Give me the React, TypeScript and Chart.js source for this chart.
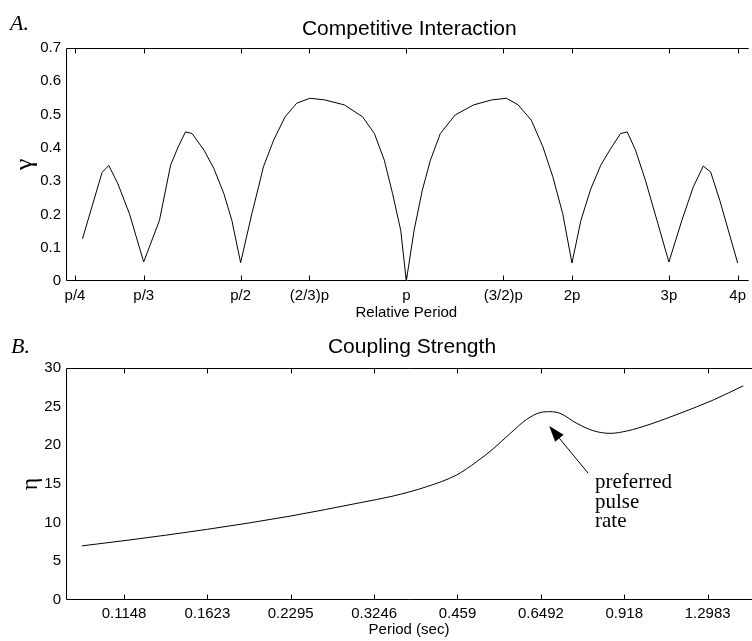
import React, { useEffect, useRef } from 'react';
import { Chart, registerables } from 'chart.js';

Chart.register(...registerables);

const SANS = '"Liberation Sans", Arial, Helvetica, sans-serif';
const SERIF = '"Liberation Serif", "Times New Roman", serif';

// ---- Panel A: Competitive Interaction ----
const REL_PERIOD = [
  0.258, 0.280, 0.288, 0.299, 0.314, 0.3333, 0.356, 0.373, 0.385, 0.397, 0.408,
  0.429, 0.447, 0.466, 0.482, 0.5, 0.524, 0.539, 0.550, 0.574, 0.602, 0.632,
  0.668, 0.711, 0.772, 0.833, 0.875, 0.912, 0.944, 0.977, 1.0, 1.033, 1.069,
  1.106, 1.153, 1.227, 1.325, 1.429, 1.521, 1.597, 1.687, 1.771, 1.846, 1.924,
  2.0, 2.076, 2.164, 2.256, 2.352, 2.451, 2.520, 2.609, 2.719, 2.854, 3.0,
  3.167, 3.323, 3.464, 3.572, 3.712, 4.0,
];
const GAMMA = [
  0.127, 0.326, 0.347, 0.293, 0.202, 0.057, 0.182, 0.348, 0.403, 0.448, 0.443,
  0.393, 0.338, 0.263, 0.182, 0.055, 0.202, 0.283, 0.343, 0.423, 0.493, 0.534,
  0.549, 0.544, 0.529, 0.493, 0.443, 0.363, 0.263, 0.152, 0.0, 0.152, 0.272,
  0.363, 0.443, 0.499, 0.529, 0.544, 0.549, 0.529, 0.483, 0.403, 0.313, 0.202,
  0.054, 0.182, 0.277, 0.348, 0.398, 0.443, 0.448, 0.393, 0.303, 0.182, 0.057,
  0.182, 0.283, 0.345, 0.328, 0.242, 0.054,
];
const REL_TICKS = [0.25, 1 / 3, 0.5, 2 / 3, 1, 1.5, 2, 3, 4];
const REL_TICK_LABELS = ['p/4', 'p/3', 'p/2', '(2/3)p', 'p', '(3/2)p', '2p', '3p', '4p'];
const GAMMA_TICKS = [0, 0.1, 0.2, 0.3, 0.4, 0.5, 0.6, 0.7];
const REL_MIN = 0.2408;
const REL_MAX = 4.153;

// ---- Panel B: Coupling Strength ----
const PERIOD_SEC = [
  0.0964, 0.1148, 0.1623, 0.2295, 0.3061, 0.3516, 0.4038, 0.4575, 0.4972,
  0.5327, 0.5709, 0.612, 0.6468, 0.6742, 0.7028, 0.7533, 0.8072, 0.8651,
  0.9273, 1.0215, 1.1571, 1.3288, 1.5055,
];
const ETA = [
  7.0, 7.67, 9.14, 10.86, 12.58, 13.45, 14.65, 16.17, 17.89, 19.57, 21.51,
  23.36, 24.23, 24.35, 24.14, 22.85, 21.89, 21.55, 21.85, 22.72, 24.14, 25.86,
  27.7,
];
const PERIOD_TICKS = [0.1148, 0.1623, 0.2295, 0.3246, 0.459, 0.6492, 0.918, 1.2983];
const PERIOD_TICK_LABELS = ['0.1148', '0.1623', '0.2295', '0.3246', '0.459', '0.6492', '0.918', '1.2983'];
const ETA_TICKS = [0, 5, 10, 15, 20, 25, 30];
const PERIOD_MIN = 0.0902;
const PERIOD_MAX = 1.561;

// annotation anchors (data coordinates of panel B)
const ARROW_TIP = { x: 0.672, y: 22.5 };
const ARROW_TAIL = { x: 0.79, y: 16.4 };
const NOTE_ANCHOR = { x: 0.813, y: 14.48 };
const NOTE_LINES = ['preferred', 'pulse', 'rate'];

const framePlugin = {
  id: 'frame',
  afterDraw(chart: any) {
    const { ctx, chartArea: a, scales } = chart;
    const L = Math.round(a.left) + 0.5;
    const T = Math.round(a.top) + 0.5;
    const B = Math.round(a.bottom) - 0.5;
    const R = a.right + 2;
    ctx.save();
    ctx.strokeStyle = '#000';
    ctx.lineWidth = 1;
    ctx.beginPath();
    ctx.moveTo(R, T);
    ctx.lineTo(L, T);
    ctx.lineTo(L, B);
    ctx.lineTo(R, B);
    const xs = scales.x;
    xs.ticks.forEach((t: any) => {
      const px = Math.round(xs.getPixelForValue(t.value)) + 0.5;
      ctx.moveTo(px, T);
      ctx.lineTo(px, T + 5);
      ctx.moveTo(px, B);
      ctx.lineTo(px, B - 5);
    });
    ctx.stroke();
    ctx.restore();
  },
};

const decorPlugin = {
  id: 'decor',
  afterDraw(chart: any, _args: any, opts: any) {
    const { ctx, chartArea: a, scales } = chart;
    ctx.save();
    ctx.fillStyle = '#000';
    ctx.textBaseline = 'alphabetic';
    ctx.textAlign = 'left';
    ctx.font = `italic 22px ${SERIF}`;
    ctx.fillText(opts.letter, opts.letterX, opts.letterY);
    ctx.textAlign = 'center';
    ctx.font = `21px ${SANS}`;
    ctx.fillText(opts.title, (a.left + a.right) / 2 + 3, opts.titleY);
    if (opts.note) {
      const xs = scales.x;
      const ys = scales.y;
      const tx = xs.getPixelForValue(ARROW_TIP.x);
      const ty = ys.getPixelForValue(ARROW_TIP.y);
      const sx = xs.getPixelForValue(ARROW_TAIL.x);
      const sy = ys.getPixelForValue(ARROW_TAIL.y);
      const ang = Math.atan2(ty - sy, tx - sx);
      const headLen = 16;
      const headHalf = 5.5;
      const bx = tx - headLen * Math.cos(ang);
      const by = ty - headLen * Math.sin(ang);
      ctx.strokeStyle = '#000';
      ctx.lineWidth = 1;
      ctx.beginPath();
      ctx.moveTo(sx, sy);
      ctx.lineTo(bx, by);
      ctx.stroke();
      ctx.beginPath();
      ctx.moveTo(tx, ty);
      ctx.lineTo(bx + headHalf * Math.sin(ang), by - headHalf * Math.cos(ang));
      ctx.lineTo(bx - headHalf * Math.sin(ang), by + headHalf * Math.cos(ang));
      ctx.closePath();
      ctx.fill();
      ctx.textAlign = 'left';
      ctx.font = `21px ${SERIF}`;
      const nx = xs.getPixelForValue(NOTE_ANCHOR.x);
      const ny = ys.getPixelForValue(NOTE_ANCHOR.y);
      NOTE_LINES.forEach((line, i) => ctx.fillText(line, nx, ny + i * 19.5));
    }
    ctx.restore();
  },
};

function makeConfig(p: any): any {
  return {
    type: 'line',
    data: {
      datasets: [
        {
          data: p.xs.map((x: number, i: number) => ({ x, y: p.ys[i] })),
          borderColor: '#000',
          borderWidth: 1,
          pointRadius: 0,
          fill: false,
          tension: p.smooth ? 0.4 : 0,
          cubicInterpolationMode: p.smooth ? 'monotone' : 'default',
        },
      ],
    },
    plugins: [framePlugin, decorPlugin],
    options: {
      responsive: false,
      animation: false,
      events: [],
      layout: { padding: { top: p.top, left: 0, right: 0, bottom: 0 } },
      plugins: {
        legend: { display: false },
        tooltip: { enabled: false },
        decor: p.decor,
      },
      scales: {
        x: {
          type: 'logarithmic',
          min: p.xmin,
          max: p.xmax,
          grid: { display: false, drawTicks: false },
          border: { display: false },
          afterBuildTicks: (s: any) => {
            s.ticks = p.xticks.map((v: number) => ({ value: v }));
          },
          afterFit: (s: any) => {
            s.height = p.xAxisHeight;
          },
          ticks: {
            autoSkip: false,
            maxRotation: 0,
            minRotation: 0,
            padding: p.xTickPad,
            color: '#000',
            font: { family: SANS, size: 15 },
            callback: (_v: any, i: number) => p.xlabels[i],
          },
          title: {
            display: true,
            text: p.xtitle,
            color: '#000',
            font: { family: SANS, size: 15 },
            padding: { top: 0, bottom: p.xTitlePad },
          },
        },
        y: {
          type: 'linear',
          min: p.ymin,
          max: p.ymax,
          grid: { display: false, drawTicks: false },
          border: { display: false },
          afterBuildTicks: (s: any) => {
            s.ticks = p.yticks.map((v: number) => ({ value: v }));
          },
          afterFit: (s: any) => {
            s.width = 66;
          },
          ticks: {
            padding: 5,
            color: '#000',
            font: { family: SANS, size: 15 },
            callback: (v: any) => String(v),
          },
          title: {
            display: true,
            text: p.ytitle,
            color: '#000',
            font: { family: SERIF, size: p.yTitleSize },
            padding: { top: p.yTitlePad, bottom: 0 },
          },
        },
      },
    },
  };
}

export default function App() {
  const refA = useRef<HTMLCanvasElement | null>(null);
  const refB = useRef<HTMLCanvasElement | null>(null);

  useEffect(() => {
    const a = new Chart(
      refA.current as HTMLCanvasElement,
      makeConfig({
        xs: REL_PERIOD,
        ys: GAMMA,
        smooth: false,
        top: 48,
        xmin: REL_MIN,
        xmax: REL_MAX,
        xticks: REL_TICKS,
        xlabels: REL_TICK_LABELS,
        xAxisHeight: 44,
        xTickPad: 6,
        xtitle: 'Relative Period',
        xTitlePad: 3,
        ymin: 0,
        ymax: 0.7,
        yticks: GAMMA_TICKS,
        ytitle: 'γ',
        yTitleSize: 26,
        yTitlePad: 10,
        decor: { letter: 'A.', letterX: 10, letterY: 29.5, title: 'Competitive Interaction', titleY: 35 },
      })
    );
    const b = new Chart(
      refB.current as HTMLCanvasElement,
      makeConfig({
        xs: PERIOD_SEC,
        ys: ETA,
        smooth: true,
        top: 43,
        xmin: PERIOD_MIN,
        xmax: PERIOD_MAX,
        xticks: PERIOD_TICKS,
        xlabels: PERIOD_TICK_LABELS,
        xAxisHeight: 41,
        xTickPad: 5,
        xtitle: 'Period (sec)',
        xTitlePad: 2,
        ymin: 0,
        ymax: 30,
        yticks: ETA_TICKS,
        ytitle: 'η',
        yTitleSize: 24,
        yTitlePad: 16,
        decor: { letter: 'B.', letterX: 11, letterY: 27.5, title: 'Coupling Strength', titleY: 28.3, note: true },
      })
    );
    return () => {
      a.destroy();
      b.destroy();
    };
  }, []);

  return (
    <div style={{ position: 'absolute', left: 0, top: 0, width: 752, height: 641, background: '#fff', overflow: 'hidden' }}>
      <canvas ref={refA} width={752} height={325} style={{ position: 'absolute', left: 0, top: 0 }} />
      <canvas ref={refB} width={752} height={316} style={{ position: 'absolute', left: 0, top: 325 }} />
    </div>
  );
}
